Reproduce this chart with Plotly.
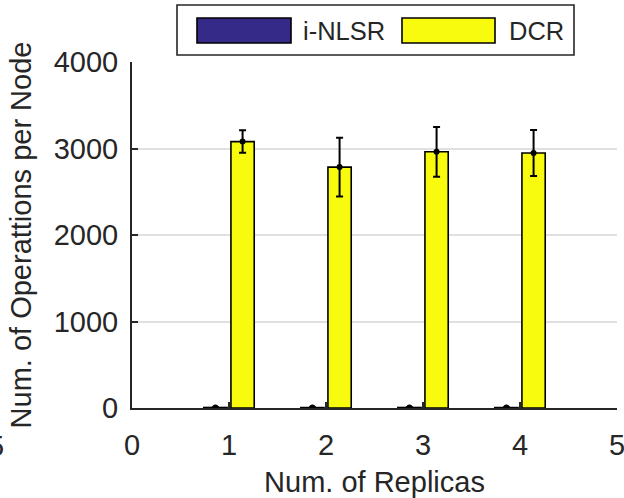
import plotly.graph_objects as go

replicas = [1, 2, 3, 4]
inlsr_vals = [6, 5, 6, 5]
inlsr_err = [4, 3, 4, 3]
dcr_vals = [3080, 2785, 2962, 2948]
dcr_err = [130, 340, 288, 265]
series_names = ["i-NLSR", "DCR"]
x_ticks = [0, 1, 2, 3, 4, 5]
y_ticks = [0, 1000, 2000, 3000, 4000]

C_BLUE = "#352a87"
C_YEL = "#f9fb0e"
TXT = "#262626"
FONT = "Liberation Sans, Arial, Helvetica, sans-serif"
FS = 29

BW = 0.24
OFF = 0.14

fig = go.Figure()
for vals, err, col, sign, name in [
    (inlsr_vals, inlsr_err, C_BLUE, -1, series_names[0]),
    (dcr_vals, dcr_err, C_YEL, 1, series_names[1]),
]:
    fig.add_trace(go.Bar(
        x=replicas, y=vals, width=BW, offset=sign * OFF - BW / 2,
        marker=dict(color=col, line=dict(color="black", width=1.6)),
        name=name, showlegend=False,
    ))
    fig.add_trace(go.Scatter(
        x=[r + sign * OFF for r in replicas], y=vals, mode="markers",
        marker=dict(color="black", size=6),
        error_y=dict(type="data", array=err, visible=True, color="black",
                     thickness=2, width=3.5),
        showlegend=False, hoverinfo="skip",
    ))

fig.update_layout(
    width=624, height=498,
    margin=dict(l=132, r=7, t=62, b=90),
    paper_bgcolor="white", plot_bgcolor="white",
    barmode="overlay",
    font=dict(family=FONT, size=FS, color=TXT),
    showlegend=False,
)
fig.update_xaxes(
    range=[0, 5], tickvals=x_ticks, ticktext=[str(t) for t in x_ticks],
    showline=True, linecolor=TXT, linewidth=2, mirror=False,
    ticks="inside", ticklen=6, tickwidth=1.5, tickcolor=TXT,
    showgrid=False, zeroline=False, ticklabelstandoff=10, automargin=False,
    ticklabeloverflow="allow",
    title=dict(text="Num. of Replicas", standoff=14, font=dict(size=FS)),
    tickfont=dict(size=FS),
)
fig.update_yaxes(
    range=[0, 4000], tickvals=y_ticks, ticktext=[str(t) for t in y_ticks],
    showline=True, linecolor=TXT, linewidth=2, mirror=False,
    ticks="inside", ticklen=6, tickwidth=1.5, tickcolor=TXT,
    showgrid=True, gridcolor="#e0e0e0", gridwidth=2, zeroline=False,
    ticklabelstandoff=6, automargin=False, ticklabeloverflow="allow",
    title=dict(text="Num. of Operattions per Node", standoff=14, font=dict(size=FS)),
    tickfont=dict(size=FS),
)

# Manual legend (MATLAB style)
def px2x(px):
    return (px - 132) / (617 - 132)

def py2y(py):
    return (408 - py) / (408 - 62)

fig.add_shape(type="rect", xref="paper", yref="paper",
              x0=px2x(177), x1=px2x(574), y0=py2y(55), y1=py2y(5),
              line=dict(color=TXT, width=1.6), fillcolor="white", layer="above")
legend_items = [(series_names[0], C_BLUE, 197, 291, 301),
                (series_names[1], C_YEL, 402, 495, 507)]
for name, col, x0, x1, tx in legend_items:
    fig.add_shape(type="rect", xref="paper", yref="paper",
                  x0=px2x(x0), x1=px2x(x1), y0=py2y(43), y1=py2y(18),
                  line=dict(color="black", width=1.6), fillcolor=col, layer="above")
    fig.add_annotation(xref="paper", yref="paper", x=px2x(tx), y=py2y(30.5),
                       text=name, showarrow=False, xanchor="left", yanchor="middle",
                       font=dict(size=25.5, color=TXT, family=FONT))

# clipped stray label at the far left edge
fig.add_annotation(xref="paper", yref="paper", x=px2x(-4), y=py2y(446),
                   text="5", showarrow=False, xanchor="center", yanchor="middle",
                   font=dict(size=FS, color=TXT, family=FONT))

fig.write_html("out.html", config={"displayModeBar": False},
               post_script="document.body.style.margin='0';document.body.style.overflow='hidden';")
